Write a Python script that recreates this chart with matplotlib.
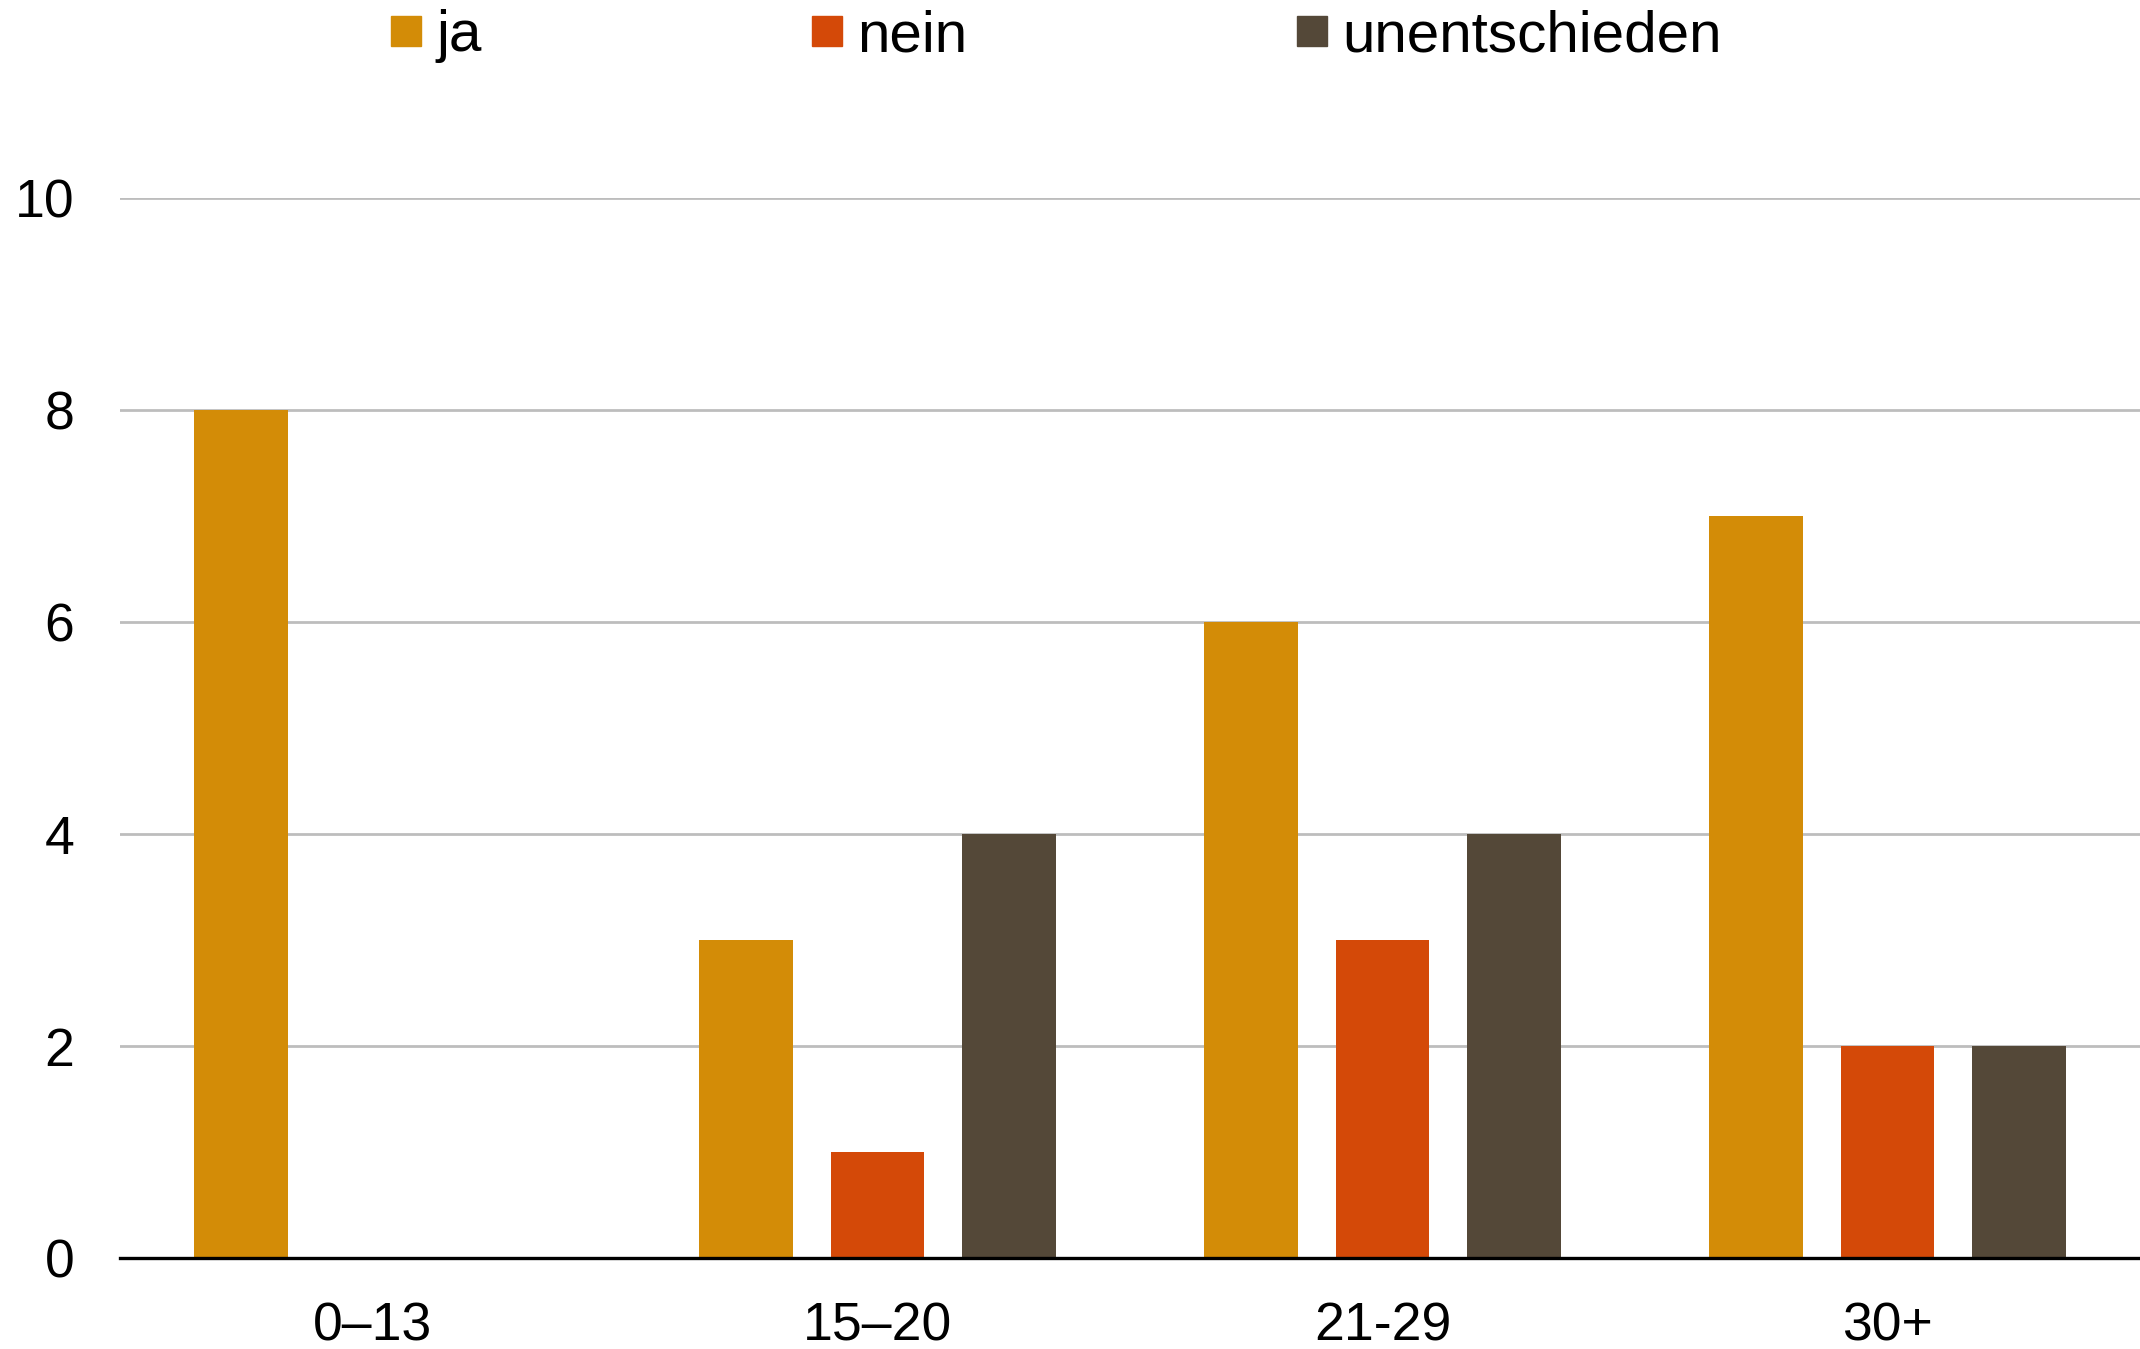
import matplotlib.pyplot as plt
import numpy as np
from matplotlib.lines import Line2D

# Daten
kategorien = ['0–13', '15–20', '21-29', '30+']
ja = [8, 3, 6, 7]
nein = [0, 1, 3, 2]
unentschieden = [0, 4, 4, 2]
serien = ['ja', 'nein', 'unentschieden']
farben = ['#D38C07', '#D44908', '#544838']

plt.rcParams['font.family'] = ['Liberation Sans', 'DejaVu Sans']

fig = plt.figure(figsize=(21.4, 13.49), dpi=100)
ax = fig.add_axes([0.0561, 0.0674, 0.9439, 0.7858])

x = np.arange(len(kategorien))
breite = 0.186
abstand = 0.26
for i, (werte, farbe) in enumerate(zip([ja, nein, unentschieden], farben)):
    ax.bar(x + (i - 1) * abstand, werte, width=breite, color=farbe, zorder=3)

ax.set_xlim(-0.5, 3.5)
ax.set_ylim(0, 10)
ax.set_yticks([0, 2, 4, 6, 8, 10])
ax.set_xticks(x)
ax.set_xticklabels(kategorien)
ax.tick_params(axis='both', length=0, labelsize=38.5, colors='black')
ax.tick_params(axis='y', pad=33)
ax.tick_params(axis='x', pad=31)

# Gitterlinien
ax.grid(axis='y', color='#BDBDBD', linewidth=2, zorder=0)
for s in ['top', 'right', 'left']:
    ax.spines[s].set_visible(False)
ax.spines['bottom'].set_linewidth(2.4)
ax.spines['bottom'].set_color('black')
ax.spines['bottom'].set_zorder(4)

# Legende
handles = [Line2D([], [], marker='s', linestyle='none', markersize=21.5,
                  markerfacecolor=f, markeredgecolor=f) for f in farben]
fig.legend(handles, serien, loc='center left', bbox_to_anchor=(0.183, 0.973),
           ncol=3, frameon=False, fontsize=42, handlelength=0.51,
           handletextpad=0.26, columnspacing=5.66, borderpad=0, borderaxespad=0)

fig.savefig('out.png', dpi=100)
